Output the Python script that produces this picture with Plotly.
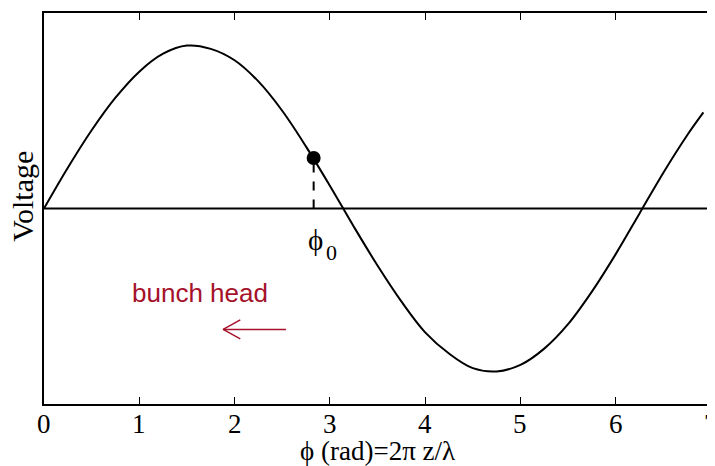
import plotly.graph_objects as go

# phase (rad) and voltage
phi = [0, 0.25, 0.5, 0.75, 1.0, 1.25, 1.5, 1.75, 2.0, 2.25, 2.5, 2.75, 3.0,
       3.25, 3.5, 3.75, 4.0, 4.25, 4.5, 4.75, 5.0, 5.25, 5.5, 5.75, 6.0,
       6.25, 6.5, 6.75, 6.92]
voltage = [0, 0.25, 0.48, 0.68, 0.84, 0.95, 1.00, 0.98, 0.91, 0.78, 0.60,
           0.38, 0.14, -0.11, -0.35, -0.57, -0.76, -0.89, -0.98, -1.00,
           -0.96, -0.86, -0.71, -0.51, -0.28, -0.03, 0.22, 0.45, 0.59]

phi0 = 2.83
v0 = 0.31

x_ticks = [0, 1, 2, 3, 4, 5, 6, 7]
x_tick_labels = ["0", "1", "2", "3", "4", "5", "6", "7"]

arrow_tail = (2.54, -0.742)
arrow_tip = (1.88, -0.742)
red = "#a5122a"

fig = go.Figure()

# zero line
fig.add_trace(go.Scatter(x=[0, 7], y=[0, 0], mode="lines",
                         line=dict(color="black", width=2), hoverinfo="skip"))

fig.add_trace(go.Scatter(x=phi, y=voltage, mode="lines", line_shape="spline",
                         line=dict(color="black", width=2)))

# dashed drop from phi0 point
fig.add_trace(go.Scatter(x=[phi0, phi0], y=[0, v0], mode="lines",
                         line=dict(color="black", width=2, dash="dash")))
fig.add_trace(go.Scatter(x=[phi0], y=[v0], mode="markers",
                         marker=dict(color="black", size=14)))

# open-headed arrow
tx, ty = arrow_tip
hx, hy = 0.18, 0.058
fig.add_trace(go.Scatter(
    x=[arrow_tail[0], tx, None, tx + hx, tx, tx + hx],
    y=[arrow_tail[1], ty, None, ty + hy, ty, ty - hy],
    mode="lines", line=dict(color=red, width=1.5)))

# phi_0 label, subscript drawn separately to sit lower like the original
fig.add_annotation(x=phi0, y=-0.08, text="ϕ", showarrow=False,
                   yanchor="top", xanchor="center", xshift=2,
                   font=dict(family="Liberation Serif", size=29, color="black"))
fig.add_annotation(x=phi0, y=-0.08, text="0", showarrow=False,
                   yanchor="top", xanchor="center", xshift=18, yshift=-16,
                   font=dict(family="Liberation Serif", size=22, color="black"))
fig.add_annotation(x=0.9, y=-0.52, text="bunch head", showarrow=False,
                   xanchor="left", yanchor="middle",
                   font=dict(family="Liberation Sans", size=26, color=red))

# tick labels (placed like the original, overflowing at the right edge)
for t, lab in zip(x_ticks, x_tick_labels):
    fig.add_annotation(x=t, yref="paper", y=0, yshift=-20, text=lab,
                       showarrow=False, xanchor="center", yanchor="middle",
                       font=dict(family="Liberation Serif", size=27, color="black"))

# axis titles
fig.add_annotation(xref="paper", yref="paper", x=0.5, y=0, yshift=-47,
                   text="ϕ (rad)=2π z/λ", showarrow=False,
                   xanchor="center", yanchor="middle",
                   font=dict(family="Liberation Serif", size=27, color="black"))
fig.add_annotation(xref="paper", yref="paper", x=0, y=0.53, xshift=-21,
                   text="Voltage", showarrow=False, textangle=-90,
                   xanchor="center", yanchor="middle",
                   font=dict(family="Liberation Serif", size=30, color="black"))

# page body has an 8px margin, so the figure is shrunk and shifted to match
fig.update_layout(
    width=707, height=458,
    margin=dict(l=36, r=4, t=5, b=62),
    paper_bgcolor="white", plot_bgcolor="white",
    showlegend=False,
    font=dict(family="Liberation Serif", color="black"),
)
fig.update_xaxes(range=[0, 7], tickvals=x_ticks, ticks="inside", ticklen=7,
                 tickwidth=1, tickcolor="black", showgrid=False, zeroline=False,
                 showline=True, linecolor="black", linewidth=1.5, mirror="ticks",
                 showticklabels=False, automargin=False)
fig.update_yaxes(range=[-1.2, 1.2], showticklabels=False, ticks="",
                 showgrid=False, zeroline=False, showline=True,
                 linecolor="black", linewidth=1.5, mirror=True, automargin=False)

fig.write_html("out.html")
